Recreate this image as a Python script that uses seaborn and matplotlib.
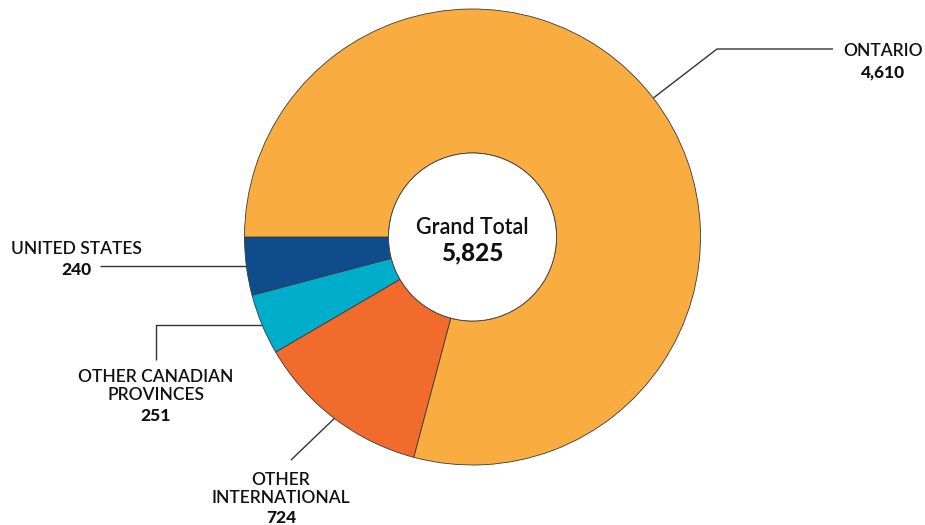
import numpy as np
import matplotlib
matplotlib.use("Agg")
import matplotlib.pyplot as plt
import seaborn as sns

# Enrolment by origin
categories = ["UNITED STATES", "OTHER CANADIAN\nPROVINCES", "OTHER\nINTERNATIONAL", "ONTARIO"]
values = [240, 251, 724, 4610]
colors = ["#0E4C8C", "#00AECB", "#F16B2D", "#F9AC40"]
total_label = "Grand Total"

sns.set_theme(style="white")
plt.rcParams["font.family"] = ["Lato", "DejaVu Sans"]

W, H = 925, 525
fig = plt.figure(figsize=(W / 100, H / 100), dpi=100)
ax = fig.add_axes([0, 0, 1, 1])

cx, cy = 472.5, H - 237
r_out, r_in = 228, 84

wedges, _ = ax.pie(
    values,
    colors=colors,
    startangle=180,
    counterclock=True,
    center=(cx, cy),
    radius=r_out,
    wedgeprops=dict(width=r_out - r_in, edgecolor="#3a3a3a", linewidth=0.6),
)
# inner outline of the hole
ax.add_patch(plt.Circle((cx, cy), r_in, facecolor="white", edgecolor="#3a3a3a", lw=0.6, zorder=3))

ax.set_xlim(0, W)
ax.set_ylim(0, H)
ax.set_aspect("equal")
ax.axis("off")


def px(y):
    return H - y


def anchor(i):
    w = wedges[i]
    ang = np.deg2rad((w.theta1 + w.theta2) / 2)
    return cx + r_out * np.cos(ang), cy + r_out * np.sin(ang)


line_kw = dict(color="#333333", lw=1.0, solid_capstyle="butt")
lab_kw = dict(fontsize=12.5, color="#111111", ha="center", va="baseline", fontweight="semibold")
num_kw = dict(fontsize=12.5, color="#111111", ha="center", va="baseline", fontweight="black")

# UNITED STATES
x0, y0 = anchor(0)
ax.plot([x0, 100], [y0, y0], **line_kw)
ax.text(76, px(254), categories[0], **lab_kw)
ax.text(76, px(275), f"{values[0]:,}", **num_kw)

# OTHER CANADIAN PROVINCES
x0, y0 = anchor(1)
ax.plot([x0, 156, 156], [y0, y0, px(360)], **line_kw)
ax.text(156, px(382), categories[1].split("\n")[0], **lab_kw)
ax.text(156, px(400), categories[1].split("\n")[1], **lab_kw)
ax.text(156, px(421), f"{values[1]:,}", **num_kw)

# OTHER INTERNATIONAL
x0, y0 = anchor(2)
ax.plot([x0, 291], [y0, px(460)], **line_kw)
ax.text(281, px(485), categories[2].split("\n")[0], **lab_kw)
ax.text(281, px(503), categories[2].split("\n")[1], **lab_kw)
ax.text(281, px(523), f"{values[2]:,}", **num_kw)

# ONTARIO
x0, y0 = anchor(3)
ax.plot([x0, 717, 833], [y0, px(49), px(49)], **line_kw)
ax.text(883, px(56), categories[3], **lab_kw)
ax.text(883, px(77), f"{values[3]:,}", **num_kw)

# centre total
ax.text(cx, px(234), total_label, fontsize=15.5, color="#111111", ha="center", va="baseline",
        fontweight="semibold", zorder=4)
ax.text(cx, px(260), f"{sum(values):,}", fontsize=17.5, color="#111111", ha="center",
        va="baseline", fontweight="black", zorder=4)

fig.savefig("out.png", dpi=100, facecolor="white")
